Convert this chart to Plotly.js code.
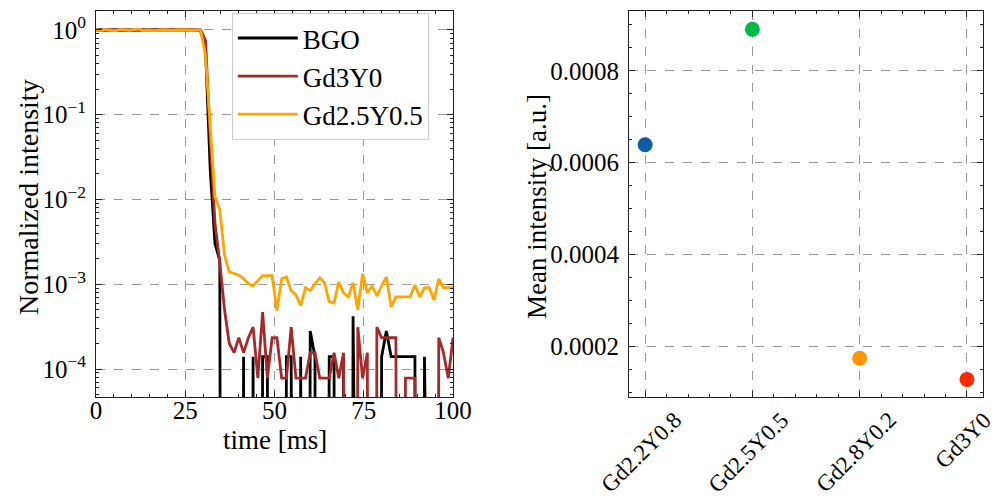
<!DOCTYPE html>
<html>
<head>
<meta charset="utf-8">
<script src="https://cdn.plot.ly/plotly-3.0.1.min.js"></script>
<style>html,body{margin:0;padding:0;background:#fff;}#chart{width:995px;height:498px;}</style>
</head>
<body>
<div id="chart"></div>
<script>
// ---------- Left panel: normalized decay curves ----------
const timeMs = [0, 1.33, 2.67, 4, 5.33, 6.67, 8, 9.33, 10.67, 12, 13.33, 14.67, 16, 17.33, 18.67, 20,
  21.33, 22.67, 24, 25.33, 26.67, 28, 29.33, 30.67, 32, 33.33, 34.67, 36, 37.33, 38.67, 40, 41.33,
  42.67, 44, 45.33, 46.67, 48, 49.33, 50.67, 52, 53.33, 54.67, 56, 57.33, 58.67, 60, 61.33, 62.67,
  64, 65.33, 66.67, 68, 69.33, 70.67, 72, 73.33, 74.67, 76, 77.33, 78.67, 80, 81.33, 82.67, 84,
  85.33, 86.67, 88, 89.33, 90.67, 92, 93.33, 94.67, 96, 97.33, 98.67, 100];

const seriesNames = ['BGO', 'Gd3Y0', 'Gd2.5Y0.5'];

const bgo = [1.00, 1.01, 0.99, 1.00, 1.01, 0.99, 1.00, 1.00, 0.99, 1.01, 1.00, 0.99, 1.00, 1.01, 1.00, 0.99,
  1.00, 1.01, 1.00, 0.99, 1.00, 1.00, 0.97, 0.60, 0.022, 0.0030, 0.0019, 0, 0, 0, 0, 1.4e-4,
  0, 1.4e-4, 0, 1.4e-4, 1.4e-4, 0, 0, 0, 1.4e-4, 1.4e-4, 0, 1.4e-4, 0, 2.8e-4, 1.4e-4, 0,
  0, 1.4e-4, 1.4e-4, 0, 1.4e-4, 0, 4.2e-4, 0, 0, 0, 0, 0, 1.4e-4, 2.8e-4, 1.4e-4, 1.4e-4,
  1.4e-4, 1.4e-4, 1.4e-4, 1.4e-4, 0, 1.4e-4, 0, 0, 0, 0, 0, 0];

const gd3y0 = [1.00, 0.99, 1.01, 1.00, 0.99, 1.00, 1.01, 1.00, 1.00, 0.99, 1.01, 1.00, 0.99, 1.00, 1.01, 1.00,
  0.99, 1.00, 1.01, 1.00, 0.99, 1.00, 1.00, 0.75, 0.05, 0.0052, 0.0018, 5.0e-4, 2.0e-4, 1.56e-4, 2.34e-4, 1.56e-4,
  2.34e-4, 3.12e-4, 7.8e-5, 4.68e-4, 7.8e-5, 2.34e-4, 2.34e-4, 7.8e-5, 7.8e-5, 3.12e-4, 7.8e-5, 7.8e-5, 7.8e-5, 1.56e-4, 1.56e-4, 7.8e-5,
  7.8e-5, 7.8e-5, 1.56e-4, 7.8e-5, 1.56e-4, 0, 0, 3.12e-4, 7.8e-5, 1.56e-4, 0, 3.12e-4, 2.34e-4, 2.34e-4, 2.34e-4, 2.34e-4,
  0, 7.8e-5, 7.8e-5, 7.8e-5, 0, 0, 0, 0, 2.34e-4, 1.56e-4, 7.8e-5, 2.34e-4];

const gd25y05 = [1.00, 0.99, 1.01, 1.00, 0.98, 1.00, 1.01, 0.99, 1.00, 1.02, 0.99, 1.00, 0.98, 1.00, 1.01, 1.00,
  0.99, 1.01, 1.00, 0.99, 1.00, 1.00, 0.98, 0.50, 0.07, 0.0107, 0.0076, 0.0022, 0.0014, 0.00133, 0.00128, 0.00117,
  0.00101, 0.00096, 0.00110, 0.00126, 0.00126, 0.00126, 0.00049, 0.00116, 0.00122, 0.00084, 0.00075, 0.00056, 0.00091, 0.00084, 0.00101, 0.00119,
  0.00104, 0.00062, 0.00060, 0.00107, 0.00079, 0.00071, 0.00104, 0.00050, 0.00133, 0.00079, 0.00096, 0.00073, 0.00096, 0.00122, 0.00054, 0.00071,
  0.00071, 0.00071, 0.00071, 0.00098, 0.00071, 0.00091, 0.00091, 0.00065, 0.00116, 0.00091, 0.00091, 0.00091];

// ---------- Right panel: mean intensity per composition ----------
const compositions = ['Gd2.2Y0.8', 'Gd2.5Y0.5', 'Gd2.8Y0.2', 'Gd3Y0'];
const meanIntensity = [0.000639, 0.000890, 0.000175, 0.000129];

const logTickVals = [1e-4, 1e-3, 1e-2, 1e-1, 1];
const logTickText = ['10<sup>\u22124</sup>', '10<sup>\u22123</sup>', '10<sup>\u22122</sup>', '10<sup>\u22121</sup>', '10<sup>0</sup>'];
const meanTickVals = [0.0002, 0.0004, 0.0006, 0.0008];

// matplotlib-style clipping of non-positive values on a log axis
const clipLog = arr => arr.map(v => (v > 0 ? v : 1e-30));

const lineColors = ['#000000', '#A52A2A', '#FFA500'];
const seriesData = [bgo, gd3y0, gd25y05];

const traces = seriesData.map((ys, k) => ({
  type: 'scatter', mode: 'lines', x: timeMs, y: clipLog(ys), name: seriesNames[k],
  legendgroup: 'g' + k,
  line: {color: lineColors[k], width: 2.8}, xaxis: 'x', yaxis: 'y', cliponaxis: true
}));

const markerColors = ['#0C5DA5', '#00B945', '#FF9500', '#FF2C00'];
const compIdx = compositions.map((c, i) => i);
traces.push({
  type: 'scatter', mode: 'markers', x: compIdx, y: meanIntensity,
  marker: {color: markerColors, size: 15}, showlegend: false, xaxis: 'x2', yaxis: 'y2'
});

// minor tick positions on the log axis (2..9 of each decade)
const minorLog = [];
for (let e = -5; e <= 0; e++) for (let m = 2; m <= 9; m++) minorLog.push(m * Math.pow(10, e));

const FONT = 'Liberation Serif, DejaVu Serif, serif';
const common = {
  ticks: 'inside', ticklen: 6, tickwidth: 1, tickcolor: '#222',
  mirror: 'allticks', showline: true, linecolor: '#222', linewidth: 1,
  showgrid: true, gridcolor: '#999999', griddash: 'dash', gridwidth: 1,
  zeroline: false, automargin: false, ticklabelstandoff: 4,
  tickfont: {family: FONT, size: 25}
};
const minorCommon = {ticks: 'inside', ticklen: 3, tickwidth: 1, tickcolor: '#222', showgrid: false};

// rotated, centred category labels under the right panel (matplotlib style)
const catLabels = compositions.map((c, i) => ({
  xref: 'x2', yref: 'paper', x: i, y: 0.188, xshift: -4, text: c, showarrow: false,
  textangle: -45, xanchor: 'center', yanchor: 'top', font: {family: FONT, size: 23}
}));
const titleAnn = [
  {xref: 'paper', yref: 'paper', x: 0.2759, y: 0.1165, text: 'time [ms]', showarrow: false,
   xanchor: 'center', yanchor: 'middle', font: {family: FONT, size: 27}},
  {xref: 'paper', yref: 'paper', x: 0.0281, y: 0.6044, text: 'Normalized intensity', showarrow: false,
   textangle: -90, xanchor: 'center', yanchor: 'middle', font: {family: FONT, size: 28}},
  {xref: 'paper', yref: 'paper', x: 0.5397, y: 0.5843, text: 'Mean intensity [a.u.]', showarrow: false,
   textangle: -90, xanchor: 'center', yanchor: 'middle', font: {family: FONT, size: 27}}
];

const layout = {
  width: 995, height: 498,
  margin: {l: 0, r: 0, t: 0, b: 0},
  paper_bgcolor: '#fff', plot_bgcolor: '#fff',
  font: {family: FONT, size: 25, color: '#000'},
  showlegend: true,
  legend: {
    x: 0.233, y: 0.974, xanchor: 'left', yanchor: 'top',
    bgcolor: '#fff', bordercolor: '#cccccc', borderwidth: 1,
    font: {family: FONT, size: 27}, tracegroupgap: 0, itemwidth: 60
  },
  annotations: catLabels.concat(titleAnn),
  xaxis: Object.assign({}, common, {
    domain: [0.0965, 0.4553], anchor: 'y', range: [0, 100],
    tickmode: 'array', tickvals: [0, 25, 50, 75, 100], ticklabelstandoff: -9,
    minor: Object.assign({}, minorCommon, {tickmode: 'linear', tick0: 0, dtick: 5})
  }),
  yaxis: Object.assign({}, common, {
    domain: [0.2028, 0.978], anchor: 'x', type: 'log', range: [-4.33, 0.224],
    tickmode: 'array', tickvals: logTickVals, ticktext: logTickText,
    minor: Object.assign({}, minorCommon, {tickmode: 'array', tickvals: minorLog})
  }),
  xaxis2: Object.assign({}, common, {
    domain: [0.6322, 0.988], anchor: 'y2', range: [-0.15, 3.15],
    tickmode: 'array', tickvals: compIdx, showticklabels: false,
    minor: Object.assign({}, minorCommon, {tickmode: 'linear', tick0: 0, dtick: 0.2})
  }),
  yaxis2: Object.assign({}, common, {
    domain: [0.2028, 0.978], anchor: 'x2', range: [0.0000907, 0.00093],
    tickmode: 'array', tickvals: meanTickVals, tickformat: '.4f',
    minor: Object.assign({}, minorCommon, {tickmode: 'linear', tick0: 0, dtick: 0.00005})
  })
};

Plotly.newPlot('chart', traces, layout, {staticPlot: true, displayModeBar: false});
</script>
</body>
</html>
